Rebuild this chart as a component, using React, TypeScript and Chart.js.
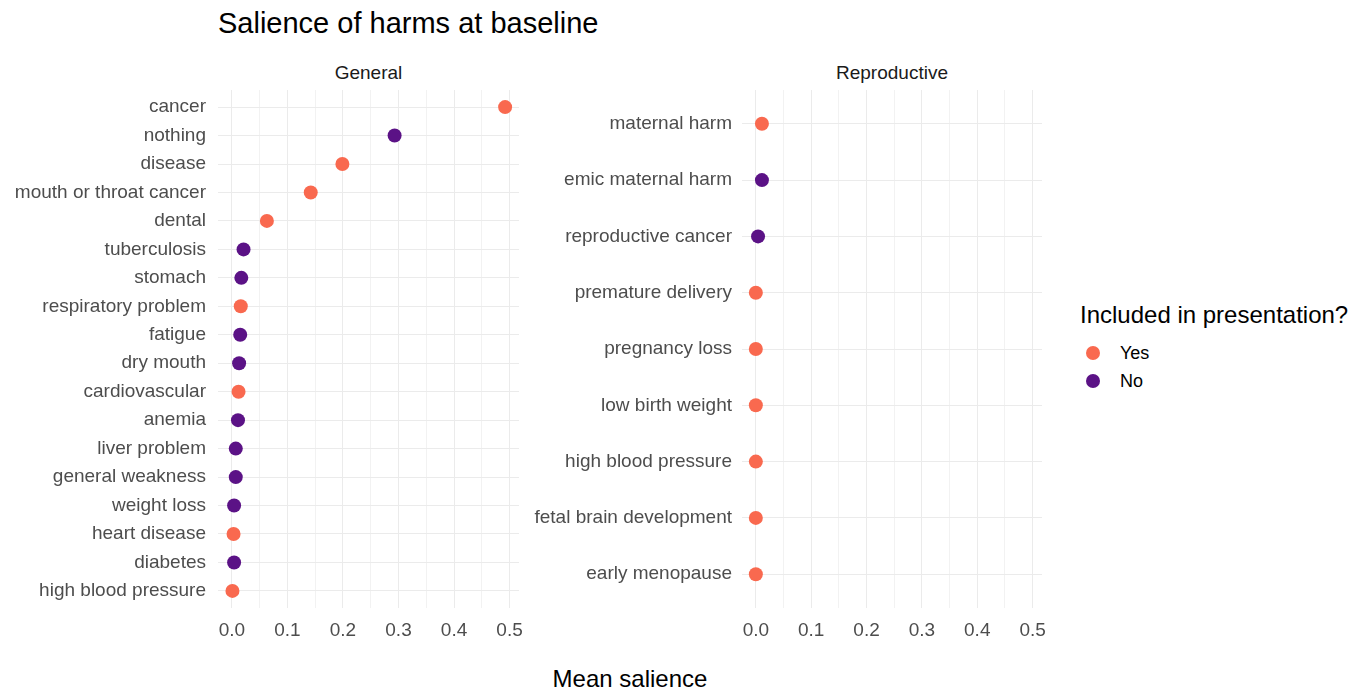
import React, { useEffect, useRef } from "react";
import { Chart, registerables } from "chart.js";

Chart.register(...registerables);

const generalLabels = [
  "cancer", "nothing", "disease", "mouth or throat cancer", "dental", "tuberculosis",
  "stomach", "respiratory problem", "fatigue", "dry mouth", "cardiovascular", "anemia",
  "liver problem", "general weakness", "weight loss", "heart disease", "diabetes", "high blood pressure",
];
const generalValues = [
  0.492, 0.293, 0.199, 0.142, 0.063, 0.021, 0.017, 0.016, 0.015, 0.013, 0.012, 0.011,
  0.007, 0.007, 0.004, 0.003, 0.004, 0.001,
];
const generalIncluded = [
  "Yes", "No", "Yes", "Yes", "Yes", "No", "No", "Yes", "No", "No", "Yes", "No",
  "No", "No", "No", "Yes", "No", "Yes",
];

const reproLabels = [
  "maternal harm", "emic maternal harm", "reproductive cancer", "premature delivery",
  "pregnancy loss", "low birth weight", "high blood pressure", "fetal brain development", "early menopause",
];
const reproValues = [0.011, 0.011, 0.004, 0.0, 0.0, 0.0, 0.0, 0.0, 0.0];
const reproIncluded = ["Yes", "No", "No", "Yes", "Yes", "Yes", "Yes", "Yes", "Yes"];

const xTickValues = [0, 0.05, 0.1, 0.15, 0.2, 0.25, 0.3, 0.35, 0.4, 0.45, 0.5];
const groups = ["Yes", "No"];
const groupColors: Record<string, string> = { Yes: "#F9694F", No: "#5B1286" };

const FONT = "'Liberation Sans', Arial, Helvetica, sans-serif";

function makeConfig(labels: string[], values: number[], included: string[], yWidth: number, yPad: number, padRight: number) {
  const datasets = groups.map((g) => ({
    label: g,
    data: values
      .map((v, i) => ({ x: v, y: i, g: included[i] }))
      .filter((p) => p.g === g)
      .map((p) => ({ x: p.x, y: p.y })),
    backgroundColor: groupColors[g],
    borderWidth: 0,
    pointRadius: 7,
    pointHoverRadius: 7,
  }));
  return {
    type: "scatter" as const,
    data: { datasets },
    options: {
      animation: false,
      responsive: false,
      layout: { padding: { top: 10, right: padRight, bottom: 0, left: 0 } },
      plugins: { legend: { display: false }, tooltip: { enabled: false }, title: { display: false } },
      scales: {
        x: {
          type: "linear",
          min: -0.025,
          max: 0.517,
          border: { display: false },
          afterBuildTicks: (scale: any) => {
            scale.ticks = xTickValues.map((v) => ({ value: v }));
          },
          afterFit: (scale: any) => {
            scale.height = 52;
            scale.paddingLeft = 0;
            scale.paddingRight = 0;
          },
          grid: {
            drawTicks: false,
            color: (ctx: any) => {
              const v = ctx.tick ? ctx.tick.value : 0;
              return Math.abs(Math.round(v * 10) - v * 10) < 1e-6 ? "#EBEBEB" : "#F2F2F2";
            },
            lineWidth: 1,
          },
          ticks: {
            padding: 11,
            color: "#4D4D4D",
            font: { size: 19, family: FONT },
            maxRotation: 0,
            autoSkip: false,
            callback: (value: any) => {
              const v = Number(value);
              return Math.abs(Math.round(v * 10) - v * 10) < 1e-6 ? v.toFixed(1) : "";
            },
          },
        },
        y: {
          type: "linear",
          reverse: true,
          min: -0.6,
          max: labels.length - 0.4,
          border: { display: false },
          afterBuildTicks: (scale: any) => {
            scale.ticks = labels.map((_, i) => ({ value: i }));
          },
          afterFit: (scale: any) => {
            scale.width = yWidth;
            scale.paddingTop = 0;
            scale.paddingBottom = 0;
          },
          grid: { drawTicks: false, color: "#EBEBEB", lineWidth: 1 },
          ticks: {
            padding: yPad,
            color: "#4D4D4D",
            autoSkip: false,
            font: { size: 19, family: FONT },
            callback: (value: any) => labels[Number(value)] ?? "",
          },
        },
      },
    },
  };
}

function Panel(props: { labels: string[]; values: number[]; included: string[]; left: number; width: number; yWidth: number; yPad: number; padRight: number }) {
  const ref = useRef<HTMLCanvasElement | null>(null);
  useEffect(() => {
    if (!ref.current) return;
    const chart = new Chart(ref.current, makeConfig(props.labels, props.values, props.included, props.yWidth, props.yPad, props.padRight) as any);
    return () => chart.destroy();
  }, []);
  return (
    <canvas
      ref={ref}
      width={props.width}
      height={580}
      style={{ position: "absolute", left: props.left, top: 80, width: props.width, height: 580 }}
    />
  );
}

export default function App() {
  const text = (style: React.CSSProperties, content: string) => (
    <div style={{ position: "absolute", lineHeight: 1, fontFamily: FONT, whiteSpace: "nowrap", ...style }}>{content}</div>
  );
  return (
    <div style={{ position: "fixed", left: 0, top: 0, width: 1369, height: 692, background: "#FFFFFF", overflow: "hidden" }}>
      {text({ left: 218, top: 9, fontSize: 29, color: "#000000" }, "Salience of harms at baseline")}
      {text({ left: 218, width: 301, top: 63, fontSize: 19, color: "#1A1A1A", textAlign: "center" }, "General")}
      {text({ left: 742, width: 300, top: 63, fontSize: 19, color: "#1A1A1A", textAlign: "center" }, "Reproductive")}
      <Panel labels={generalLabels} values={generalValues} included={generalIncluded} left={0} width={540} yWidth={218} yPad={12} padRight={21} />
      <Panel labels={reproLabels} values={reproValues} included={reproIncluded} left={500} width={560} yWidth={242} yPad={10} padRight={18} />
      {text({ left: 218, width: 824, top: 667, fontSize: 24, color: "#000000", textAlign: "center" }, "Mean salience")}
      {text({ left: 1080, top: 303, fontSize: 24, color: "#000000" }, "Included in presentation?")}
      {groups.map((g, i) => (
        <React.Fragment key={g}>
          <div style={{ position: "absolute", left: 1093 - 7, top: 353 + i * 28 - 7, width: 14, height: 14, borderRadius: "50%", background: groupColors[g] }} />
          {text({ left: 1120, top: 344 + i * 28, fontSize: 18, color: "#000000" }, g)}
        </React.Fragment>
      ))}
    </div>
  );
}
